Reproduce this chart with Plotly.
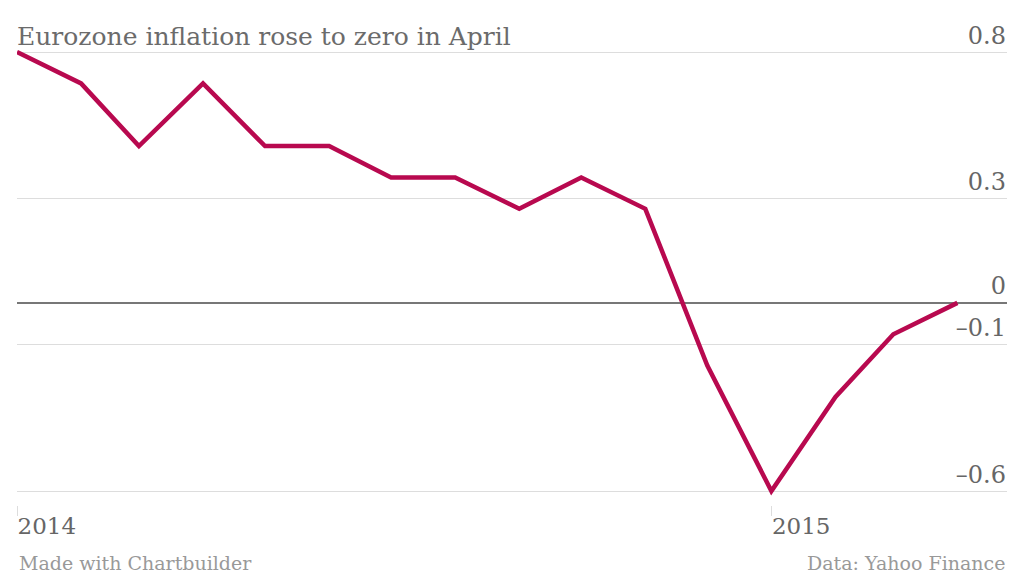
import plotly.graph_objs as go

# monthly eurozone inflation, Jan 2014 - Apr 2015
months = [
    '2014-01-01', '2014-02-01', '2014-03-01', '2014-04-01',
    '2014-05-01', '2014-06-01', '2014-07-01', '2014-08-01',
    '2014-09-01', '2014-10-01', '2014-11-01', '2014-12-01',
    '2015-01-01', '2015-02-01', '2015-03-01', '2015-04-01',
]
inflation = [0.8, 0.7, 0.5, 0.7, 0.5, 0.5, 0.4, 0.4,
             0.3, 0.4, 0.3, -0.2, -0.6, -0.3, -0.1, 0.0]

# chartbuilder spaces the ticks evenly and rounds the labels
y_tickvals = [0.8, 0.3333, 0, -0.1333, -0.6]
y_ticktext = ['0.8', '0.3', '0', '\u20130.1', '\u20130.6']
x_tickvals = ['2014-01-01', '2015-01-01']
x_ticktext = ['2014', '2015']

serif = 'DejaVu Serif'

fig = go.Figure()
fig.add_trace(go.Scatter(
    x=months,
    y=inflation,
    mode='lines',
    line={'color': '#b8094f', 'width': 4.5},
    hoverinfo='x+y',
))

# the y range goes a bit past 0.8 so the top tick label still shows,
# and a bit below -0.6 so the x ticks sit apart from the last gridline
fig.update_layout(
    width=1024, height=577,
    margin={'l': 17, 'r': 17, 't': 21, 'b': 72},
    paper_bgcolor='white',
    plot_bgcolor='white',
    showlegend=False,
    font={'family': serif, 'color': '#666666'},
    title={
        'text': 'Eurozone inflation rose to zero in April',
        'x': 0, 'xref': 'paper', 'xanchor': 'left',
        'y': 1 - 36 / 577, 'yref': 'container', 'yanchor': 'middle',
        'font': {'family': serif, 'size': 25, 'color': '#6b6b6b'},
    },
    xaxis={
        'range': ['2014-01-01', '2015-04-25'],
        'tickvals': x_tickvals,
        'ticktext': x_ticktext,
        'ticks': 'outside',
        'ticklen': 10,
        'tickcolor': '#dddddd',
        'ticklabelposition': 'outside right',
        'tickfont': {'family': serif, 'size': 23, 'color': '#666666'},
        'showgrid': False,
        'zeroline': False,
        'showline': False,
        'automargin': False,
    },
    yaxis={
        'range': [-0.6446, 0.8989],
        'side': 'right',
        'tickvals': y_tickvals,
        'ticktext': y_ticktext,
        'ticklabelposition': 'inside top',
        'ticklabelstandoff': -2,
        'tickfont': {'family': serif, 'size': 24, 'color': '#666666'},
        'showgrid': True,
        'gridcolor': '#dddddd',
        'gridwidth': 1,
        'zeroline': True,
        'zerolinecolor': '#777777',
        'zerolinewidth': 1.5,
        'showline': False,
        'fixedrange': True,
        'automargin': False,
    },
    annotations=[
        {
            'text': 'Made with Chartbuilder',
            'x': 0, 'xref': 'paper', 'xanchor': 'left',
            'y': -0.12, 'yref': 'paper', 'yanchor': 'middle',
            'showarrow': False,
            'font': {'family': serif, 'size': 19, 'color': '#999999'},
        },
        {
            'text': 'Data: Yahoo Finance',
            'x': 1, 'xref': 'paper', 'xanchor': 'right',
            'y': -0.12, 'yref': 'paper', 'yanchor': 'middle',
            'showarrow': False,
            'font': {'family': serif, 'size': 19, 'color': '#999999'},
        },
    ],
)

# drop the page's default 8px body margin so the figure fills the window
fig.write_html(
    'out.html',
    config={'displayModeBar': False},
    post_script="document.body.style.margin = '0';",
)
